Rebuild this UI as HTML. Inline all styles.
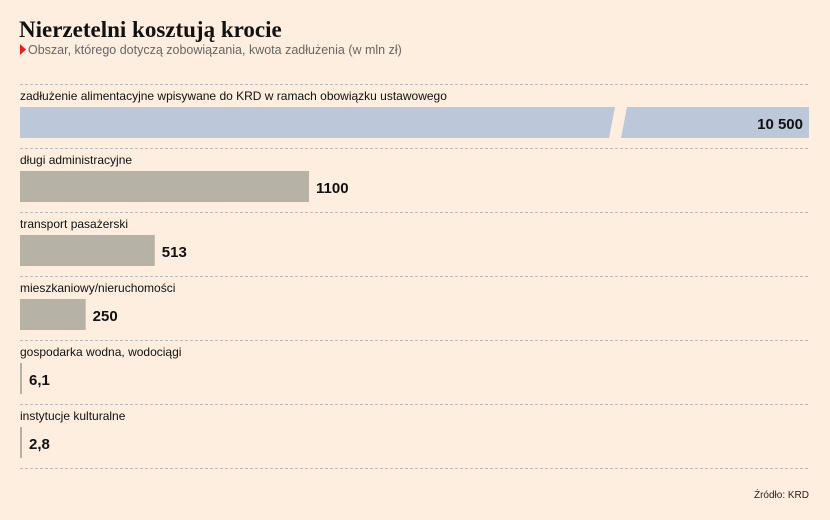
<!DOCTYPE html>
<html><head><meta charset="utf-8"><style>
body{margin:0;background:#fdeee0;}
svg{display:block;font-family:"Liberation Sans",sans-serif;}
</style></head><body>
<svg id="chart" width="830" height="520" viewBox="0 0 830 520">
<rect width="830" height="520" fill="#fdeee0"/>
<text x="19" y="37" font-family="Liberation Serif,serif" font-weight="bold" font-size="23" fill="#111">Nierzetelni kosztują krocie</text>
<polygon points="20,44 26,49.5 20,55" fill="#e0231b"/>
<text x="28" y="54" font-size="12.5" fill="#666">Obszar, którego dotyczą zobowiązania, kwota zadłużenia (w mln zł)</text>
<g id="rows"></g>
<text x="809" y="498" text-anchor="end" font-size="10" fill="#222">Źródło: KRD</text>
</svg>
<script>
const categories=["zadłużenie alimentacyjne wpisywane do KRD w ramach obowiązku ustawowego","długi administracyjne","transport pasażerski","mieszkaniowy/nieruchomości","gospodarka wodna, wodociągi","instytucje kulturalne"];
const values=[10500,1100,513,250,6.1,2.8];
const valueLabels=["10 500","1100","513","250","6,1","2,8"];
const NS="http://www.w3.org/2000/svg";
const g=document.getElementById("rows");
const x0=20,pxPerUnit=289/1100,maxW=789,rowTop=84,rowH=64;
function xs(v){return Math.min(maxW,Math.max(2,v*pxPerUnit));}
function mk(t,a){const e=document.createElementNS(NS,t);for(const k in a)e.setAttribute(k,a[k]);g.appendChild(e);return e;}
for(let i=0;i<=categories.length;i++){
  const l=mk("line",{x1:20,x2:809,y1:rowTop+i*rowH+0.5,y2:rowTop+i*rowH+0.5,stroke:"#bbb","stroke-dasharray":"3,2","stroke-width":1});
  
  
}
categories.forEach((c,i)=>{
  const top=rowTop+i*rowH;
  const t=mk("text",{x:20,y:top+16,"font-size":"12",fill:"#111"});t.textContent=c;
  
  
  const w=xs(values[i]);
  const broken=values[i]*pxPerUnit>maxW;
  const b=mk("rect",{x:x0,y:top+23,width:w,height:31,fill:broken?"#bcc8d9":"#b6b3a6"});
  
  
  if(broken){
    const br=mk("polygon",{points:`615,${top+23} 627,${top+23} 621,${top+54} 609,${top+54}`,fill:"#fdeee0"});
    
    
  }
  const v=mk("text",{x:broken?x0+w-6:x0+w+7,y:top+45,"text-anchor":broken?"end":"start","font-size":"15","font-weight":"bold",fill:"#111"});
  v.textContent=valueLabels[i];
  
  
});
</script>
</body></html>
